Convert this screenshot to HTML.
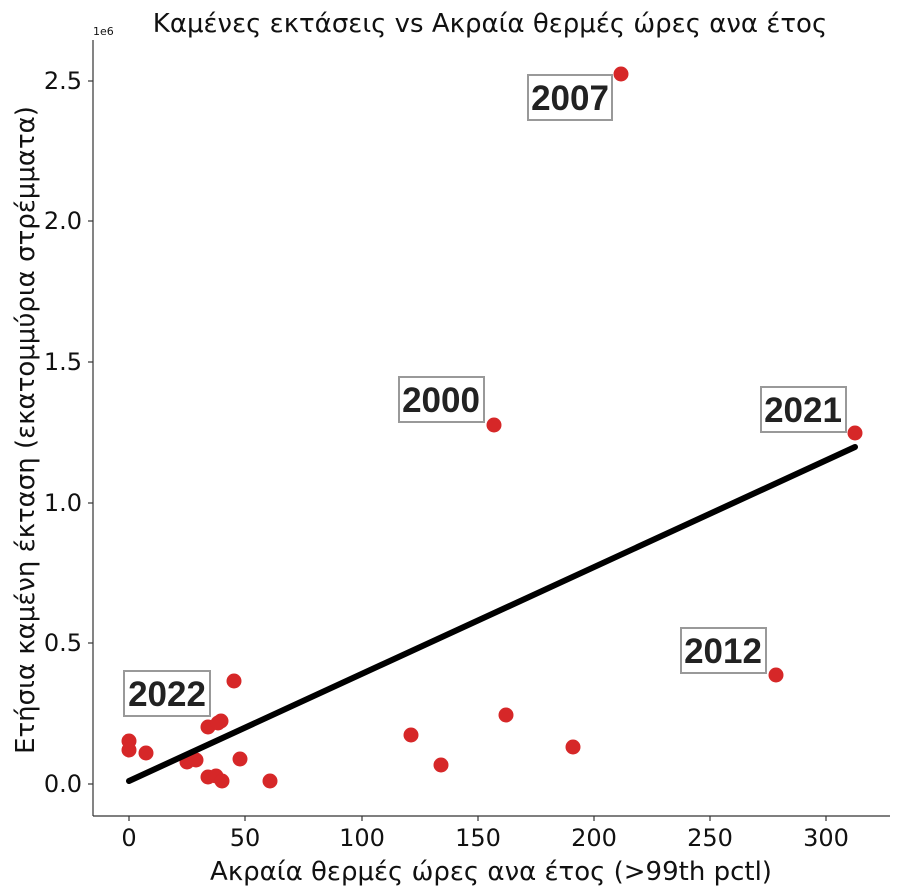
<!DOCTYPE html>
<html><head><meta charset="utf-8"><style>
body{margin:0;background:#fff}
svg{display:block;font-family:"DejaVu Sans","Liberation Sans",sans-serif}
.t{font-size:24px;fill:#111}
.lb{font-family:"Liberation Sans",sans-serif;font-weight:bold;font-size:35px;fill:#222}
</style></head><body>
<svg width="900" height="894" viewBox="0 0 900 894">
<text x="490" y="32" text-anchor="middle" font-size="26" fill="#111">Καμένες εκτάσεις vs Ακραία θερμές ώρες ανα έτος</text>
<text x="93" y="35" font-size="11" fill="#111">1e6</text>
<line x1="93" y1="40" x2="93" y2="816" stroke="#333" stroke-width="1.2"/>
<line x1="93" y1="816" x2="890" y2="816" stroke="#333" stroke-width="1.2"/>
<g stroke="#333" stroke-width="1.2">
<line x1="88" y1="784" x2="93" y2="784"/><line x1="88" y1="643" x2="93" y2="643"/><line x1="88" y1="503" x2="93" y2="503"/><line x1="88" y1="362" x2="93" y2="362"/><line x1="88" y1="221" x2="93" y2="221"/><line x1="88" y1="81" x2="93" y2="81"/>
<line x1="129" y1="816" x2="129" y2="821"/><line x1="245" y1="816" x2="245" y2="821"/><line x1="362" y1="816" x2="362" y2="821"/><line x1="478" y1="816" x2="478" y2="821"/><line x1="594" y1="816" x2="594" y2="821"/><line x1="710" y1="816" x2="710" y2="821"/><line x1="826" y1="816" x2="826" y2="821"/>
</g>
<g class="t" text-anchor="end">
<text x="82" y="792">0.0</text><text x="82" y="651">0.5</text><text x="82" y="511">1.0</text><text x="82" y="370">1.5</text><text x="82" y="229">2.0</text><text x="82" y="89">2.5</text>
</g>
<g class="t" text-anchor="middle">
<text x="129" y="846">0</text><text x="245" y="846">50</text><text x="362" y="846">100</text><text x="478" y="846">150</text><text x="594" y="846">200</text><text x="710" y="846">250</text><text x="826" y="846">300</text>
</g>
<text x="491" y="880" text-anchor="middle" font-size="26" fill="#111">Ακραία θερμές ώρες ανα έτος (&gt;99th pctl)</text>
<text transform="translate(34,430) rotate(-90)" text-anchor="middle" font-size="26" fill="#111">Ετήσια καμένη έκταση (εκατομμύρια στρέμματα)</text>
<g fill="#d62728">
<circle cx="129" cy="741" r="7.5"/><circle cx="129" cy="750" r="7.5"/><circle cx="146" cy="753" r="7.5"/><circle cx="187" cy="762" r="7.5"/><circle cx="196" cy="760" r="7.5"/><circle cx="208" cy="727" r="7.5"/><circle cx="221" cy="721" r="7.5"/><circle cx="218" cy="723" r="7.5"/><circle cx="234" cy="681" r="7.5"/><circle cx="240" cy="759" r="7.5"/><circle cx="208" cy="777" r="7.5"/><circle cx="216" cy="776" r="7.5"/><circle cx="222" cy="781" r="7.5"/><circle cx="270" cy="781" r="7.5"/><circle cx="411" cy="735" r="7.5"/><circle cx="441" cy="765" r="7.5"/><circle cx="494" cy="425" r="7.5"/><circle cx="506" cy="715" r="7.5"/><circle cx="573" cy="747" r="7.5"/><circle cx="621" cy="74" r="7.5"/><circle cx="776" cy="675" r="7.5"/><circle cx="855" cy="433" r="7.5"/>
</g>
<line x1="129" y1="781" x2="855" y2="447" stroke="#000" stroke-width="6" stroke-linecap="round"/>
<g fill="#fff" fill-opacity="0.85" stroke="#999" stroke-width="2">
<rect x="528" y="75" width="84" height="45"/><rect x="399" y="377" width="85" height="45"/><rect x="761" y="387" width="85" height="45"/><rect x="681" y="628" width="85" height="45"/><rect x="124" y="671" width="86" height="45"/>
</g>
<g class="lb" text-anchor="middle">
<text x="570" y="110">2007</text><text x="441" y="412">2000</text><text x="803" y="422">2021</text><text x="723" y="663">2012</text><text x="167" y="706">2022</text>
</g>
</svg>
</body></html>
